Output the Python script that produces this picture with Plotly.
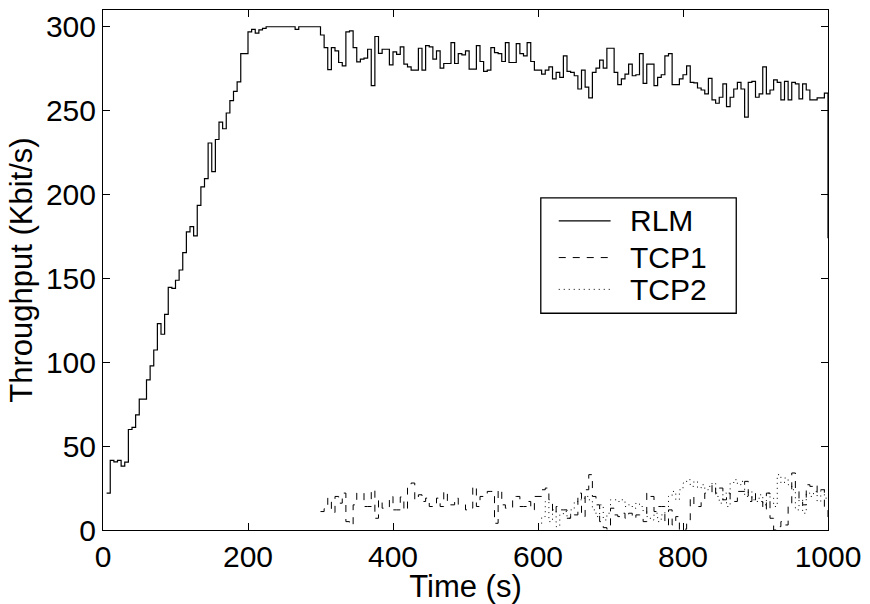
import numpy as np
import plotly.graph_objects as go

# ---- data (5 s bins; value k covers [5k, 5k+5]) ----
BIN = 5
T_END = 1000

rlm_start_bin = 1
rlm_values = [
    22, 41.5, 40.6, 41.5, 38.1, 40.5, 59.9, 61.2, 68.6, 78,
    78, 89.5, 97.9, 107.3, 123.0, 116.7, 128.6, 144.7, 144, 148.9,
    155, 165.4, 177.7, 180.8, 175.3, 193.5, 204.6, 209.5, 230.7, 213.7,
    232.8, 243.1, 239.2, 248.6, 256, 261.5, 267.2, 284, 284, 296.9,
    298.5, 296.2, 298.1, 299.1, 300, 300, 300, 300, 300, 300,
    300, 300, 298.5, 300, 300, 300, 300, 300, 300, 295.1,
    287.6, 274.4, 287.6, 285.6, 278.7, 276.7, 296.9, 297.5, 287.6, 279.1,
    280.7, 281.3, 286.6, 264.9, 294.2, 284.1, 286.6, 286.6, 277.3, 285,
    283.5, 288, 277.7, 276.1, 274.2, 274.2, 287.2, 274.2, 288.8, 288,
    280.7, 285.6, 275.4, 278.1, 278.1, 290.6, 278.1, 284, 283.3, 285.6,
    274.8, 274.8, 288.8, 279.3, 273.4, 274.2, 287.6, 284.6, 284, 279.3,
    290.6, 278.7, 278.7, 290, 284, 282.7, 290.6, 279.3, 274.2, 274.2,
    271.8, 274.2, 276.1, 268.9, 272.8, 269.8, 282.7, 273.4, 272.8, 270.8,
    262.9, 274.2, 264, 257.6, 272.8, 275.4, 280.1, 275.4, 287.2, 287.2,
    272.8, 265.5, 268.9, 271.8, 277.7, 270.8, 271.4, 284, 266.3, 277.7,
    277.7, 264.9, 269.8, 271.4, 282.7, 284, 265.5, 265.5, 268.9, 271.4,
    276.7, 266.9, 266.5, 263.5, 262.3, 260, 269.2, 256.4, 254.4, 258,
    265.9, 252.4, 258, 262.9, 266.9, 262.9, 246.1, 266.9, 267.5, 258,
    260, 276.1, 260, 262.3, 268.3, 266.9, 256.4, 267.5, 256.4, 266.9,
    265.9, 257, 265.9, 262.3, 256.4, 256.4, 257.6, 257.6, 260.4,
]
rlm_final = 174

tcp1_start_bin = 60
tcp1_values = [
    11, 12.7, 19, 10.4, 20, 16, 22, 5, 3, 15,
    22, 22, 14, 14, 24, 7, 18, 13, 13, 20,
    12, 12, 19.7, 11.8, 25, 28, 18, 21, 17, 19,
    14, 14, 19, 14, 23, 15, 15, 19, 15, 15,
    12, 13, 26, 14, 20, 20, 23, 23, 4, 24,
    15, 13, 13, 20, 20, 14, 14, 17, 12, 20,
    20, 24, 25, 18, 10, 14, 12, 12, 7, 10,
    9, 22, 8, 24, 33, 20, 15, 5, 1.4, 0.5,
    13, 9, 8, 10, 7, 10, 7, 9, 9, 5,
    22, 20, 11, 14, 14, 3, 12, 3, 8, 0,
    0.5, 6, 20, 15, 14, 18, 22, 22, 27, 22,
    25, 18, 22, 17, 17, 23, 23, 29, 17, 22,
    17, 17, 12, 22, 7, 0, 2, 5, 3, 14,
    34, 25, 17, 15, 27, 26, 27, 22, 24, 12,
]
tcp1_final = 6

tcp2_start_bin = 120
tcp2_values = [
    3, 8, 17, 5, 12, 2, 9, 11, 7, 12,
    17, 18, 19, 20, 18, 12, 8, 15, 6, 10,
    18, 18, 17, 18, 14, 15, 13, 16, 14, 11,
    8, 6, 10, 5, 9, 11, 20, 23, 18, 24,
    28, 30, 26, 29, 25, 27, 24, 26, 28, 20,
    16, 22, 14, 28, 30, 27, 29, 20, 23, 18,
    17, 21, 15, 22, 19, 14, 33, 28, 31, 27,
    24, 12, 18, 10, 22, 20, 23, 17, 24, 19,
]
tcp2_final = 19

x_ticks = [0, 200, 400, 600, 800, 1000]
y_ticks = [0, 50, 100, 150, 200, 250, 300]
series_names = ["RLM", "TCP1", "TCP2"]


def stairs(start_bin, values, final):
    t = list(BIN * (start_bin + np.arange(len(values)))) + [T_END]
    v = list(values) + [final]
    return t, v


FONT = "Liberation Sans, Arial, Helvetica, sans-serif"
fig = go.Figure()

styles = [
    dict(color="black", width=1.2, dash="solid"),
    dict(color="black", width=1, dash="7px,7px"),
    dict(color="black", width=1, dash="1px,4px"),
]
data = [
    (rlm_start_bin, rlm_values, rlm_final),
    (tcp1_start_bin, tcp1_values, tcp1_final),
    (tcp2_start_bin, tcp2_values, tcp2_final),
]
for name, (sb, vals, fin), st in zip(series_names, data, styles):
    t, v = stairs(sb, vals, fin)
    fig.add_trace(go.Scatter(x=t, y=v, mode="lines", name=name,
                             line=dict(shape="hv", **st), showlegend=False))

axis_common = dict(
    showline=True, linecolor="black", linewidth=1, mirror="ticks",
    ticks="inside", ticklen=7, tickcolor="black", tickwidth=1,
    showgrid=False, zeroline=False,
    tickfont=dict(family=FONT, size=30, color="black"),
)
fig.update_xaxes(range=[0, 1000], tickvals=x_ticks, **axis_common,
                 title=dict(text="Time (s)", font=dict(family=FONT, size=31, color="black"),
                            standoff=0))
fig.update_yaxes(range=[0, 310], tickvals=y_ticks, **axis_common,
                 title=dict(text="Throughput (Kbit/s)",
                            font=dict(family=FONT, size=31, color="black"), standoff=4))

# ---- legend drawn in paper coordinates ----
L, R, T, B = 103, 830, 9, 532
def px(x):
    return (x - L) / (R - L)
def py(y):
    return (B - y) / (B - T)

shapes = [dict(type="rect", xref="paper", yref="paper",
               x0=px(542), x1=px(738), y0=py(314), y1=py(198),
               line=dict(color="black", width=1.3), fillcolor="white", layer="above")]
annotations = []
rows = [221, 258, 290]
for name, st, yy in zip(series_names, styles, rows):
    shapes.append(dict(type="line", xref="paper", yref="paper",
                       x0=px(560), x1=px(612), y0=py(yy), y1=py(yy),
                       line=dict(color=st["color"], width=st["width"], dash=st["dash"]),
                       layer="above"))
    annotations.append(dict(xref="paper", yref="paper", x=px(629), y=py(yy),
                            xanchor="left", yanchor="middle", text=name, showarrow=False,
                            font=dict(family=FONT, size=30, color="black")))

fig.update_layout(
    width=870, height=604,
    margin=dict(l=L, r=870 - R, t=T, b=604 - B),
    paper_bgcolor="white", plot_bgcolor="white",
    shapes=shapes, annotations=annotations,
    showlegend=False,
)
fig.write_html("out.html")
